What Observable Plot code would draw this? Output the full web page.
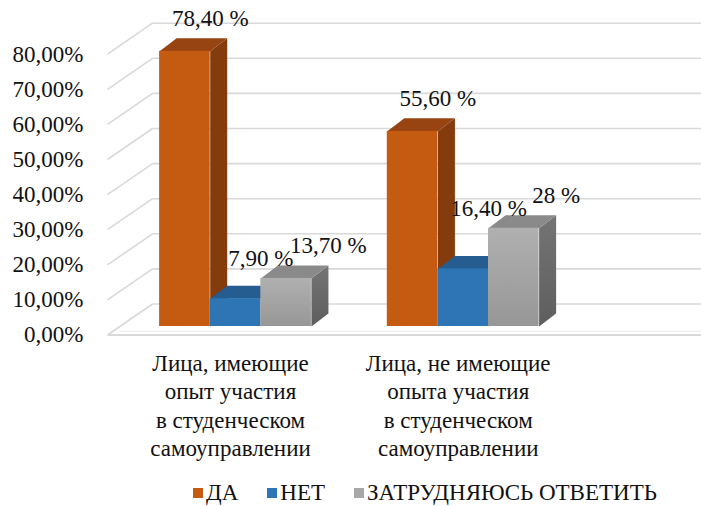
<!DOCTYPE html>
<html>
<head>
<meta charset="utf-8">
<script src="https://cdn.jsdelivr.net/npm/d3@7"></script>
<script src="https://cdn.jsdelivr.net/npm/@observablehq/plot@0.6"></script>
<style>
  html, body { margin: 0; padding: 0; background: #fff; }
  body { width: 701px; height: 506px; overflow: hidden; font-family: 'Liberation Serif', serif; }
  #chart svg { display: block; }
  #legend > div {
    display: flex !important; align-items: center; flex-wrap: nowrap;
    height: 30px; min-height: 30px; margin: 8px 0 0 193px !important;
    font-family: 'Liberation Serif', serif !important; font-size: 23px !important; color: #111 !important;
  }
  #legend .lg-swatch { margin-right: 29px !important; display: inline-flex; align-items: center; }
  #legend .lg-swatch > svg { margin-right: 3px !important; }
</style>
</head>
<body>
<div id="chart"></div>
<div id="legend"></div>
<script>
// ---------- data ----------
const categories = [
  "Лица, имеющие\nопыт участия\nв студенческом\nсамоуправлении",
  "Лица, не имеющие\nопыта участия\nв студенческом\nсамоуправлении"
];
const seriesNames = ["ДА", "НЕТ", "ЗАТРУДНЯЮСЬ ОТВЕТИТЬ"];
const valuesDa = [78.4, 55.6];
const valuesNet = [7.9, 16.4];
const valuesHard = [13.7, 28];
const labelsDa = ["78,40 %", "55,60 %"];
const labelsNet = ["7,90 %", "16,40 %"];
const labelsHard = ["13,70 %", "28 %"];
const yTicks = [0, 10, 20, 30, 40, 50, 60, 70, 80];
const yTickLabels = ["0,00%", "10,00%", "20,00%", "30,00%", "40,00%", "50,00%", "60,00%", "70,00%", "80,00%"];

// ---------- layout / style constants ----------
const values = [valuesDa, valuesNet, valuesHard];
const labels = [labelsDa, labelsNet, labelsHard];
const GROUP = 4.5;          // group step in bar widths
const BDX = 0.336, BDZ = 3.7;   // bar depth offsets (x units, y units)
const X_LEFT = -1.03, X_RIGHT = 10.8;
const FZ = -2.42;           // front (axis) plane zero
const WDX = 0.89, WDZ = 8.83;   // front plane -> back wall offset
const faceFront = ["#C55A11", "#2E75B6", "url(#gGray)"];
const faceSide = ["#843C0C", "#1F4E79", "url(#gGraySide)"];
const faceTop = ["#974312", "#255D90", "#8A8A8A"];
const legendColors = ["#C55A11", "#2E75B6", "#A8A8A8"];
const textColor = "#111";
const gridColor = "#D9D9D9";
const FONT = "'Liberation Serif', serif";
const FS = 23;

const bars = [];
categories.forEach((c, g) => values.forEach((vals, s) => {
  bars.push({g, s, v: vals[g], label: labels[s][g], x0: g * GROUP + s, x1: g * GROUP + s + 1});
}));
const sidePts = bars.flatMap((b, i) => [
  {id: i, s: b.s, x: b.x1, y: 0},
  {id: i, s: b.s, x: b.x1, y: b.v},
  {id: i, s: b.s, x: b.x1 + BDX, y: b.v + BDZ},
  {id: i, s: b.s, x: b.x1 + BDX, y: BDZ}
]);
const topPts = bars.flatMap((b, i) => [
  {id: i, s: b.s, x: b.x0, y: b.v},
  {id: i, s: b.s, x: b.x1, y: b.v},
  {id: i, s: b.s, x: b.x1 + BDX, y: b.v + BDZ},
  {id: i, s: b.s, x: b.x0 + BDX, y: b.v + BDZ}
]);
const shadowPts = categories.flatMap((c, g) => {
  const a = g * GROUP, e = g * GROUP + 3;
  return [
    {id: g, x: a - 0.38, y: 0},
    {id: g, x: e + 0.33, y: 0},
    {id: g, x: e + 0.85, y: 4.3},
    {id: g, x: a + 0.1, y: 4.3}
  ];
});

function labelX(b) { return b.s === 2 ? b.x1 + BDX : b.x1; }
function labelY(b) {
  if (b.s === 1) return Math.max(b.v, valuesHard[b.g]) + 5.5;
  return b.v + 9.3;
}

const barMarks = [0, 1, 2].flatMap(s => [
  Plot.line(sidePts.filter(p => p.s === s), {x: "x", y: "y", z: "id", fill: faceSide[s], stroke: "none"}),
  Plot.line(topPts.filter(p => p.s === s), {x: "x", y: "y", z: "id", fill: faceTop[s], stroke: "none"}),
  Plot.rect(bars.filter(b => b.s === s), {x1: "x0", x2: "x1", y1: () => 0, y2: "v", fill: faceFront[s]})
]);

const txt = {fill: textColor, fontSize: FS, fontFamily: FONT};

const svg = Plot.plot({
  width: 701,
  height: 470,
  marginTop: 0, marginRight: 0, marginBottom: 0, marginLeft: 0,
  style: {fontFamily: FONT, fontSize: FS + "px", background: "#fff", color: textColor, overflow: "visible"},
  x: {type: "linear", domain: [X_LEFT, X_RIGHT], range: [107, 107 + (X_RIGHT - X_LEFT) * 50.6], axis: null},
  y: {type: "linear", domain: [FZ, 80 + FZ + WDZ], range: [334.5, 334.5 - (80 + WDZ) * 3.51], axis: null},
  marks: [
    // left wall diagonals
    Plot.link(yTicks, {x1: () => X_LEFT, y1: t => t + FZ, x2: () => X_LEFT + WDX, y2: t => t + FZ + WDZ, stroke: gridColor, strokeWidth: 1.6}),
    // back wall gridlines
    Plot.link(yTicks, {x1: () => X_LEFT + WDX, y1: t => t + FZ + WDZ, x2: () => X_RIGHT, y2: t => t + FZ + WDZ, stroke: gridColor, strokeWidth: 1.6}),
    // floor front edge
    Plot.link([0], {x1: () => X_LEFT, y1: () => FZ, x2: () => X_RIGHT, y2: () => FZ, stroke: gridColor, strokeWidth: 2.2}),
    Plot.link([0], {x1: () => X_LEFT + 0.25, y1: () => FZ + 1.1, x2: () => X_RIGHT, y2: () => FZ + 1.1, stroke: "#EBEBEB", strokeWidth: 1}),
    // shadows
    Plot.line(shadowPts, {x: "x", y: "y", z: "id", fill: "#333", stroke: "none", fillOpacity: 0.9, ariaLabel: "barshadow"}),
    ...barMarks,
    // value labels
    Plot.text(bars, {x: labelX, y: labelY, text: "label", ...txt}),
    // y tick labels
    Plot.text(yTicks, {x: () => X_LEFT, y: t => t + FZ, text: (t, i) => yTickLabels[i], textAnchor: "end", dx: -24, ...txt}),
    // category labels
    Plot.text(categories, {x: (c, g) => g * GROUP + 1.5, y: () => FZ, text: d => d, lineAnchor: "top", dy: 16, dx: -5, lineHeight: 1.23, ...txt})
  ]
});

const defs = d3.select(svg).insert("defs", ":first-child");
defs.html(`
  <linearGradient id="gGray" x1="0" y1="0" x2="0" y2="1">
    <stop offset="0" stop-color="#B0B0B0"/>
    <stop offset="1" stop-color="#979797"/>
  </linearGradient>
  <linearGradient id="gGraySide" x1="0" y1="0" x2="0" y2="1">
    <stop offset="0" stop-color="#747474"/>
    <stop offset="1" stop-color="#5E5E5E"/>
  </linearGradient>
  <filter id="blurShadow" x="-20%" y="-100%" width="140%" height="300%">
    <feGaussianBlur stdDeviation="3"/>
  </filter>
`);
d3.select(svg).selectAll('g[aria-label="barshadow"]').attr("filter", "url(#blurShadow)");
svg.style.fontFamily = FONT;

document.getElementById("chart").appendChild(svg);

const legend = Plot.legend({
  color: {type: "ordinal", domain: seriesNames, range: legendColors},
  legend: "swatches",
  swatchSize: 10,
  className: "lg"
});
legend.style.fontFamily = FONT;
legend.style.fontSize = FS + "px";
document.getElementById("legend").appendChild(legend);
</script>
</body>
</html>
